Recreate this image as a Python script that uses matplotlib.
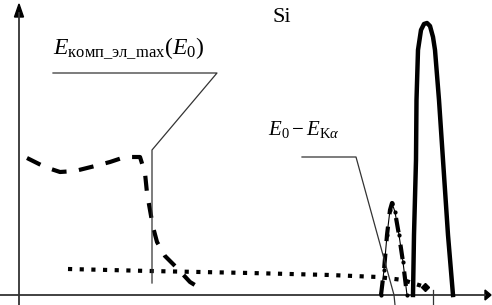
import numpy as np
import matplotlib.pyplot as plt
from matplotlib.patches import Polygon

plt.rcParams['mathtext.fontset'] = 'custom'
plt.rcParams['mathtext.rm'] = 'Liberation Serif'
plt.rcParams['mathtext.it'] = 'Liberation Serif:italic'
plt.rcParams['font.family'] = 'Liberation Serif'

# compton electrons (dashed)
comp_x = [8, 26, 41, 56, 76, 91, 106, 121, 126, 128, 131, 134, 138, 146, 158, 171, 184]
comp_y = [137, 128, 123, 124, 129, 133, 138, 138, 122, 102, 85, 68, 53, 39, 27, 13, 5]

# background (dotted)
bg_x = [49, 131, 231, 311, 359, 384, 406]
bg_y = [26, 24, 22, 20, 18, 15, 8]

# E0 - EKa peak (thick dashed + thin dotted)
esc_x = [362, 365, 368, 371, 373, 376, 380, 384, 388]
esc_y = [0, 25, 60, 85, 92, 83, 60, 33, 0]

# Si K-alpha peak (solid)
si_x = [394, 395, 397, 397.5, 399, 402, 405, 408, 411, 414, 416, 420, 424, 429, 434]
si_y = [0, 60, 135, 195, 245, 265, 271, 272, 269, 258, 245, 195, 135, 60, 0]

fig = plt.figure(figsize=(4.92, 3.05), dpi=100)
ax = fig.add_axes([0, 0, 1, 1])
ax.set_xlim(-19, 473)
ax.set_ylim(-10, 295)
ax.axis('off')

# axes with arrows
ax.plot([-19, 466], [0, 0], color='#333333', lw=1.3)
ax.plot([0, 0], [-10, 282], color='#333333', lw=1.3)
ax.add_patch(Polygon([[466, 5], [466, -5], [472, 0]], closed=True, color='black'))
ax.add_patch(Polygon([[-4.5, 278], [4.5, 278], [0, 291]], closed=True, color='black'))

ax.plot(comp_x, comp_y, color='black', lw=3, dashes=(3.6, 3.0))
ax.plot(bg_x, bg_y, color='black', lw=3, linestyle=(0, (1, 1.8)))
ax.plot(bg_x[-1], bg_y[-1], marker='D', color='black', ms=4)
ax.plot(esc_x, esc_y, color='black', lw=3, dashes=(3.5, 3.0))
ax.plot(esc_x, esc_y, color='black', lw=0.8, marker='o', ms=2)
ax.plot(si_x, si_y, color='black', lw=3.2, solid_joinstyle='round')

# leader lines
ax.plot([133, 133, 198, 34], [12, 145, 222, 222], color='#333333', lw=0.9)
ax.plot([283, 337, 375, 376], [138, 138, 0, -10], color='#333333', lw=0.9)
ax.plot([414, 414], [5, -10], color='#333333', lw=0.9)

ax.text(34, 247, r'$E_{\mathrm{комп\_эл\_max}}(E_0)$', fontsize=17, ha='left', va='center')
ax.text(263, 277, 'Si', fontsize=16, ha='center', va='center')
ax.text(249, 165, r'$E_0 - E_{\mathrm{K}\alpha}$', fontsize=15, ha='left', va='center')

fig.savefig('out.png', dpi=100)
